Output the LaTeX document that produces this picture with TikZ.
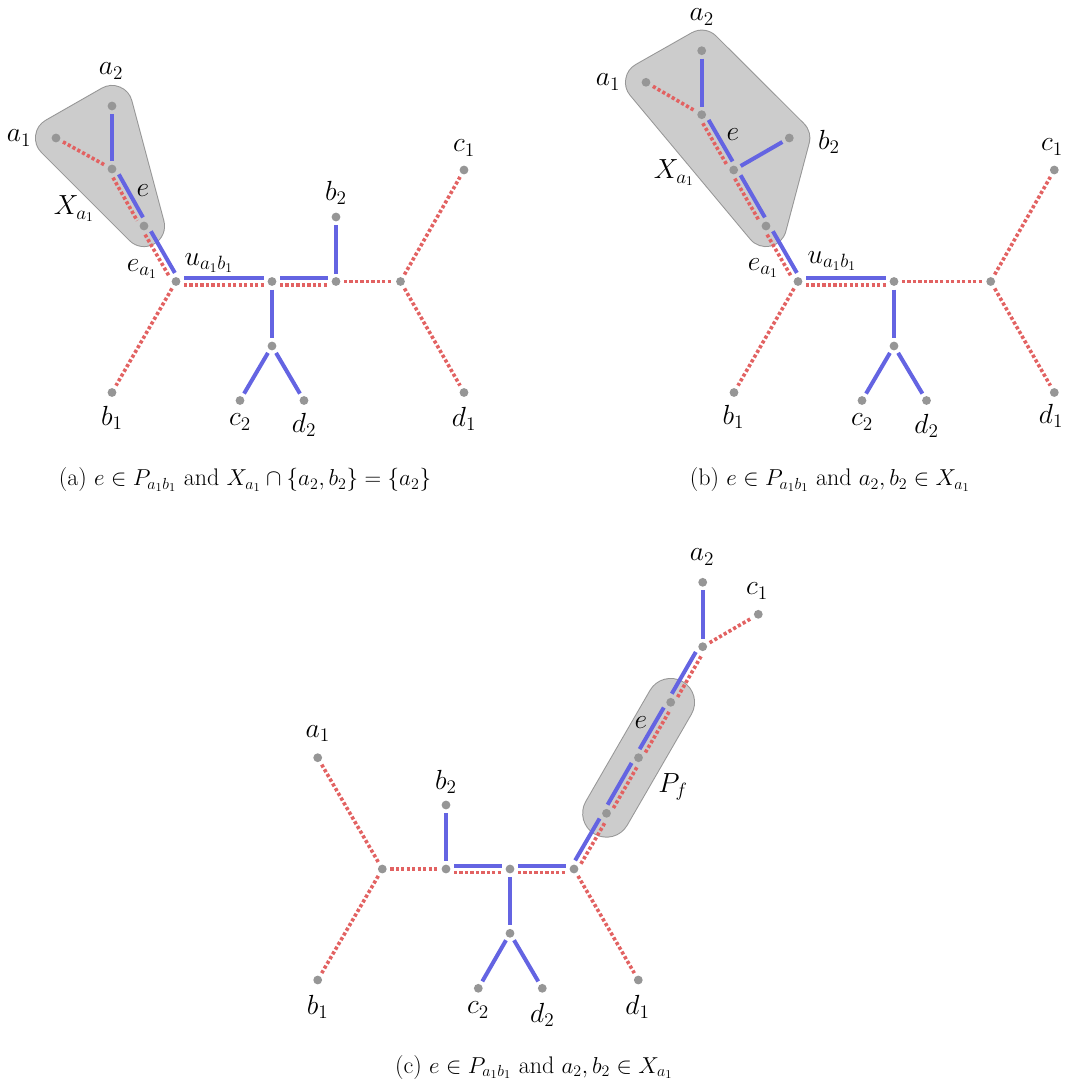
\documentclass[tikz,border=0pt]{standalone}
\usetikzlibrary{calc,backgrounds}
\definecolor{myblue}{RGB}{100,100,226}
\definecolor{myred}{RGB}{226,98,98}
\definecolor{dotgray}{RGB}{150,150,150}
\definecolor{hullfill}{RGB}{204,204,204}
\definecolor{hullline}{RGB}{150,150,150}
\tikzset{
  dot/.style={circle, fill=dotgray, inner sep=0pt, minimum size=6.6pt},
  bl/.style={draw=myblue, line width=3pt, shorten <=6pt, shorten >=6pt},
  rd/.style={draw=myred, line width=2.7pt, dash pattern=on 2.4pt off 1.7pt, shorten <=6pt, shorten >=6pt},
  lbl/.style={font=\fontsize{20}{24}\selectfont, inner sep=0pt},
  captext/.style={font=\fontsize{18}{22}\selectfont, inner sep=0pt},
  hullB/.style={draw=hullline, fill=hullfill, line width=31.5pt, line join=round, line cap=round},
  hullF/.style={draw=hullfill, fill=hullfill, line width=30pt, line join=round, line cap=round},
}
\newcommand\dbl[2]{%
  \draw[bl] ($(#1)!2.5pt!90:(#2)$) -- ($(#2)!2.5pt!-90:(#1)$);
  \draw[rd] ($(#1)!2.5pt!-90:(#2)$) -- ($(#2)!2.5pt!90:(#1)$);}
\newcommand\bll[2]{\draw[bl] (#1.center) -- (#2.center);}
\newcommand\rdl[2]{\draw[rd] (#1.center) -- (#2.center);}
\begin{document}
\begin{tikzpicture}[x=0.75pt,y=-0.75pt]
\useasboundingbox (0,0) rectangle (1064,1088);
\clip (0,0) rectangle (1064,1088);
% ---------------- (a) ----------------
\node[dot] (Aa2) at (112,106) {};
\node[dot] (Aa1) at (56,138) {};
\node[dot] (Av) at (112,169) {};
\node[dot] (Aw) at (144,226) {};
\node[dot] (Au) at (176,281.5) {};
\node[dot] (Am) at (272,281.5) {};
\node[dot] (Ax) at (336,281.5) {};
\node[dot] (Ar) at (400.5,281.5) {};
\node[dot] (Ab2) at (336,217) {};
\node[dot] (Ac1) at (464,170) {};
\node[dot] (Ad1) at (464,392.5) {};
\node[dot] (Al) at (272,346) {};
\node[dot] (Ac2) at (240,400.5) {};
\node[dot] (Ad2) at (304,400.5) {};
\node[dot] (Ab1) at (112,392.5) {};
\begin{scope}[on background layer]
  \path[hullB] (Aa1.center) -- (Aa2.center) -- (Aw.center) -- cycle;
  \path[hullF] (Aa1.center) -- (Aa2.center) -- (Aw.center) -- cycle;
\end{scope}
\bll{Aa2}{Av}
\rdl{Aa1}{Av}
\dbl{Av}{Aw}
\dbl{Aw}{Au}
\dbl{Au}{Am}
\dbl{Am}{Ax}
\bll{Ab2}{Ax}
\rdl{Ax}{Ar}
\rdl{Ar}{Ac1}
\rdl{Ar}{Ad1}
\rdl{Au}{Ab1}
\bll{Am}{Al}
\bll{Al}{Ac2}
\bll{Al}{Ad2}
\node[lbl] (LAa2) at (111,71) {$a_2$};
\node[lbl] (LAa1) at (19,138) {$a_1$};
\node[lbl] (LAe) at (143,191) {$e$};
\node[lbl] (LAX) at (74,209) {$X_{a_1}$};
\node[lbl] (LAea) at (142,269) {$e_{a_1}$};
\node[lbl] (LAu) at (209,263) {$u_{a_1b_1}$};
\node[lbl] (LAb2) at (336,193) {$b_2$};
\node[lbl] (LAc1) at (464,148) {$c_1$};
\node[lbl] (LAd1) at (464,419) {$d_1$};
\node[lbl] (LAc2) at (240,422) {$c_2$};
\node[lbl] (LAd2) at (304,425) {$d_2$};
\node[lbl] (LAb1) at (112,418) {$b_1$};
\node[captext] (CA) at (245,480) {(a) $e\in P_{a_1b_1}$ and $X_{a_1}\cap\{a_2,b_2\}=\{a_2\}$};
% ---------------- (b) ----------------
\node[dot] (Ba2) at (701.7,50.7) {};
\node[dot] (Ba1) at (646,82.3) {};
\node[dot] (Bv) at (701.7,114.7) {};
\node[dot] (Bb2) at (789.3,138) {};
\node[dot] (Bx) at (733.7,170) {};
\node[dot] (Bw) at (766,226) {};
\node[dot] (Bu) at (798,281.5) {};
\node[dot] (Bm) at (894,281.5) {};
\node[dot] (Br) at (990.7,281.5) {};
\node[dot] (Bl) at (894,346) {};
\node[dot] (Bc2) at (862,400.5) {};
\node[dot] (Bd2) at (926.5,400.5) {};
\node[dot] (Bb1) at (734,392.5) {};
\node[dot] (Bc1) at (1054.3,170) {};
\node[dot] (Bd1) at (1054.3,392.5) {};
\begin{scope}[on background layer]
  \path[hullB] (Ba1.center) -- (Ba2.center) -- (Bb2.center) -- (Bw.center) -- cycle;
  \path[hullF] (Ba1.center) -- (Ba2.center) -- (Bb2.center) -- (Bw.center) -- cycle;
\end{scope}
\bll{Ba2}{Bv}
\rdl{Ba1}{Bv}
\dbl{Bv}{Bx}
\bll{Bx}{Bb2}
\dbl{Bx}{Bw}
\dbl{Bw}{Bu}
\dbl{Bu}{Bm}
\rdl{Bm}{Br}
\rdl{Br}{Bc1}
\rdl{Br}{Bd1}
\rdl{Bu}{Bb1}
\bll{Bm}{Bl}
\bll{Bl}{Bc2}
\bll{Bl}{Bd2}
\node[lbl] (LBa2) at (701.7,17) {$a_2$};
\node[lbl] (LBa1) at (608,82) {$a_1$};
\node[lbl] (LBe) at (733,135) {$e$};
\node[lbl] (LBb2) at (829,141.5) {$b_2$};
\node[lbl] (LBX) at (674,173) {$X_{a_1}$};
\node[lbl] (LBea) at (763,268) {$e_{a_1}$};
\node[lbl] (LBu) at (832,261) {$u_{a_1b_1}$};
\node[lbl] (LBb1) at (733.5,417) {$b_1$};
\node[lbl] (LBc2) at (862,422) {$c_2$};
\node[lbl] (LBd2) at (926.5,426) {$d_2$};
\node[lbl] (LBd1) at (1051,416) {$d_1$};
\node[lbl] (LBc1) at (1052,147) {$c_1$};
\node[captext] (CB) at (830,480) {(b) $e\in P_{a_1b_1}$ and $a_2,b_2\in X_{a_1}$};
% ---------------- (c) ----------------
\node[dot] (Ca2) at (702.7,582.3) {};
\node[dot] (Cc1) at (758.3,614.3) {};
\node[dot] (Ct) at (702.7,646.7) {};
\node[dot] (Cp1) at (670.7,702.3) {};
\node[dot] (Cp2) at (638.5,757.7) {};
\node[dot] (Cp3) at (606.5,813.3) {};
\node[dot] (CR) at (574,869) {};
\node[dot] (Cm) at (510,869) {};
\node[dot] (Cx) at (446,869) {};
\node[dot] (CL) at (382.3,869) {};
\node[dot] (Cb2) at (446,805) {};
\node[dot] (Ca1) at (317.7,757.7) {};
\node[dot] (Cb1) at (317.7,980) {};
\node[dot] (Cl) at (510,933.3) {};
\node[dot] (Cc2) at (478.3,988.3) {};
\node[dot] (Cd2) at (542.3,988.3) {};
\node[dot] (Cd1) at (638.3,980) {};
\begin{scope}[on background layer]
  \path[hullB, line width=36.5pt] (Cp1.center) -- (Cp3.center);
  \path[hullF, line width=35pt] (Cp1.center) -- (Cp3.center);
\end{scope}
\rdl{Ca1}{CL}
\rdl{CL}{Cb1}
\rdl{CL}{Cx}
\bll{Cb2}{Cx}
\dbl{Cx}{Cm}
\dbl{Cm}{CR}
\dbl{CR}{Cp3}
\dbl{Cp3}{Cp2}
\dbl{Cp2}{Cp1}
\dbl{Cp1}{Ct}
\bll{Ct}{Ca2}
\rdl{Ct}{Cc1}
\rdl{CR}{Cd1}
\bll{Cm}{Cl}
\bll{Cl}{Cc2}
\bll{Cl}{Cd2}
\node[lbl] (LCa2) at (702,557) {$a_2$};
\node[lbl] (LCc1) at (757,591) {$c_1$};
\node[lbl] (LCe) at (641,723) {$e$};
\node[lbl] (LCP) at (673,787) {$P_f$};
\node[lbl] (LCa1) at (317.7,733.5) {$a_1$};
\node[lbl] (LCb2) at (446,781.5) {$b_2$};
\node[lbl] (LCb1) at (317.7,1006.5) {$b_1$};
\node[lbl] (LCc2) at (478,1010) {$c_2$};
\node[lbl] (LCd2) at (542.3,1015) {$d_2$};
\node[lbl] (LCd1) at (637.5,1007) {$d_1$};
\node[captext] (CC) at (534,1067) {(c) $e\in P_{a_1b_1}$ and $a_2,b_2\in X_{a_1}$};
\end{tikzpicture}
\end{document}
